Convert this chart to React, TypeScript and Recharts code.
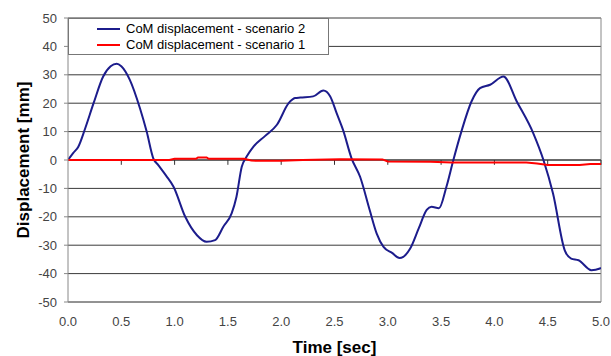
import React from 'react';
import { LineChart, Line, XAxis, YAxis, CartesianGrid, ReferenceLine } from 'recharts';

const time2 = [0, 0.05, 0.097, 0.16, 0.24, 0.33, 0.40, 0.457, 0.50, 0.58, 0.675, 0.738, 0.80, 0.847, 0.92, 0.99, 1.10, 1.21, 1.30, 1.38, 1.457, 1.535, 1.58, 1.63, 1.676, 1.74, 1.85, 1.96, 2.07, 2.13, 2.18, 2.30, 2.395, 2.46, 2.52, 2.58, 2.66, 2.74, 2.83, 2.896, 2.96, 3.04, 3.11, 3.145, 3.21, 3.29, 3.365, 3.41, 3.48, 3.55, 3.615, 3.69, 3.785, 3.865, 3.96, 4.085, 4.21, 4.365, 4.46, 4.55, 4.66, 4.72, 4.79, 4.91, 4.99, 5.0];
const disp2 = [0, 2.5, 4.7, 11, 20, 29.4, 33, 33.9, 33, 28.2, 18.2, 10, 0.6, -1.8, -5.5, -9.4, -20, -26.5, -28.8, -28.2, -23.5, -18.8, -13, -2.4, 1.2, 4.7, 8.5, 12.4, 20, 21.8, 22, 22.4, 24.5, 22.4, 16.5, 10.6, 0.6, -5.9, -17.6, -25.9, -30.6, -32.7, -34.5, -34.1, -31.2, -24.1, -17.6, -16.5, -17, -9.4, 0, 10, 20.6, 25.3, 26.5, 29.4, 20.6, 9.4, 0, -11.8, -31.8, -34.7, -35.3, -38.8, -38.2, -38];

const time1 = [0, 0.95, 1.0, 1.2, 1.22, 1.3, 1.32, 1.65, 1.72, 1.8, 2.0, 2.2, 2.55, 2.95, 3.0, 3.4, 3.6, 4.3, 4.4, 4.5, 4.8, 4.9, 5.0];
const disp1 = [0, 0, 0.4, 0.4, 0.9, 0.9, 0.4, 0.4, -0.2, -0.3, -0.3, 0, 0.3, 0.2, -0.5, -0.6, -0.9, -0.9, -1.2, -1.8, -1.8, -1.4, -1.4];

const xTicks = [0, 0.5, 1.0, 1.5, 2.0, 2.5, 3.0, 3.5, 4.0, 4.5, 5.0];
const yTicks = [-50, -40, -30, -20, -10, 0, 10, 20, 30, 40, 50];
const seriesNames = ['CoM displacement - scenario 2', 'CoM displacement - scenario 1'];
const seriesColors = ['#1c1c8c', '#ff0000'];

const data2 = time2.map((t, i) => ({ t, v: disp2[i] }));
const data1 = time1.map((t, i) => ({ t, v: disp1[i] }));

const FONT = "Arial, 'Liberation Sans', sans-serif";

const LegendBox = () => (
  <div
    style={{
      position: 'absolute',
      left: 68,
      top: 18,
      width: 259,
      height: 35,
      border: '1px solid #777',
      background: '#fff',
      fontFamily: FONT,
      fontSize: 13,
      color: '#000',
      boxSizing: 'content-box',
    }}
  >
    {seriesNames.map((n, i) => (
      <div key={n} style={{ display: 'flex', alignItems: 'center', height: 16, marginTop: i === 0 ? 2 : 0 }}>
        <div style={{ width: 28 }} />
        <div style={{ width: 23, height: 2, background: seriesColors[i] }} />
        <div style={{ width: 6 }} />
        <span style={{ whiteSpace: 'nowrap', lineHeight: '16px' }}>{n}</span>
      </div>
    ))}
  </div>
);

const tickSegs = xTicks.filter((t) => t > 0);

export default function App() {
  return (
    <div style={{ position: 'absolute', left: 0, top: 0, width: 611, height: 356, background: '#fff' }}>
      <LineChart width={611} height={356} margin={{ top: 18, right: 10, bottom: 24, left: 0 }}>
        <CartesianGrid horizontal vertical={false} stroke="#3a3a3a" />
        <XAxis
          type="number"
          dataKey="t"
          domain={[0, 5]}
          ticks={xTicks}
          tickFormatter={(v: number) => v.toFixed(1)}
          axisLine={false}
          tickLine={false}
          tickMargin={9}
          tick={{ fontSize: 13, fill: '#444', fontFamily: FONT }}
          allowDataOverflow
          label={{ value: 'Time [sec]', position: 'insideBottom', offset: -21, fontSize: 17, fontWeight: 'bold', fill: '#000', fontFamily: FONT }}
        />
        <YAxis
          type="number"
          domain={[-50, 50]}
          ticks={yTicks}
          width={68}
          axisLine={{ stroke: '#888' }}
          tickLine={{ stroke: '#888' }}
          tickSize={4}
          tickMargin={7}
          tick={{ fontSize: 13, fill: '#444', fontFamily: FONT }}
          label={{ value: 'Displacement [mm]', angle: -90, position: 'insideLeft', offset: 23, fontSize: 17, fontWeight: 'bold', fill: '#000', fontFamily: FONT, style: { textAnchor: 'middle' } }}
        />
        <ReferenceLine x={5} stroke="#888" />
        <ReferenceLine y={-50} stroke="#888" />
        <ReferenceLine y={0} stroke="#333" />
        {tickSegs.map((t) => (
          <ReferenceLine key={t} segment={[{ x: t, y: 0 }, { x: t, y: -1.7 }]} stroke="#333" />
        ))}
        <Line data={data2} dataKey="v" type="monotone" stroke={seriesColors[0]} strokeWidth={2} dot={false} isAnimationActive={false} name={seriesNames[0]} />
        <Line data={data1} dataKey="v" type="linear" stroke={seriesColors[1]} strokeWidth={2} dot={false} isAnimationActive={false} name={seriesNames[1]} />
      </LineChart>
      <LegendBox />
    </div>
  );
}
